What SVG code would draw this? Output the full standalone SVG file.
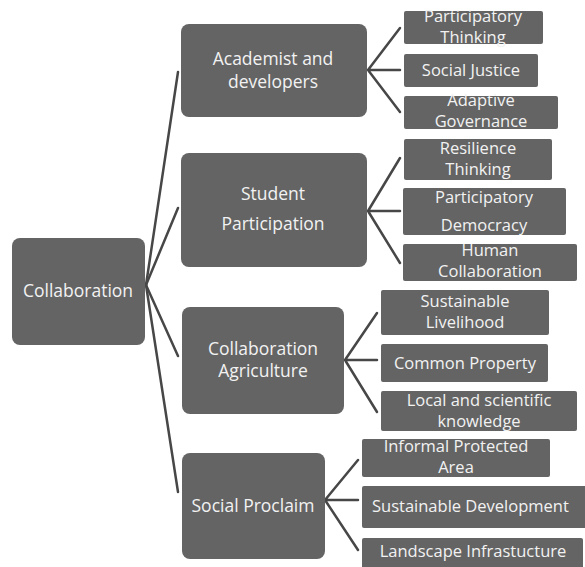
<svg xmlns="http://www.w3.org/2000/svg" width="585" height="567" viewBox="0 0 585 567">
<style>
.big{fill:#646464;}
.sm{fill:#646464;}
text{font-family:"Open Sans","Liberation Sans",sans-serif;fill:#f2f2f2;text-anchor:middle;}
.t2{font-size:17.5px;}
.t3{font-size:16.5px;}
.c{fill:none;stroke:#474747;stroke-width:2.5;stroke-linecap:round;}
</style>
<rect width="585" height="567" fill="#ffffff"/>
<g id="connectors">
<path class="c" d="M146,285 L178,72"/>
<path class="c" d="M146,285 L178,208"/>
<path class="c" d="M146,285 L178,356"/>
<path class="c" d="M146,285 L178,492"/>
<path class="c" d="M368,70 L400,28 M368,70 L400,70 M368,70 L400,112"/>
<path class="c" d="M368,211 L400,158 M368,211 L400,211 M368,211 L400,263"/>
<path class="c" d="M345,360 L377,313 M345,360 L377,360 M345,360 L377,412"/>
<path class="c" d="M325,500 L358,460 M325,500 L358,500 M325,500 L358,550"/>
</g>
<g id="collaboration"><rect class="big" x="12" y="238" width="133" height="107" rx="8"/><text class="t2" x="78" y="297">Collaboration</text></g>
<g id="academist"><rect class="big" x="181" y="24" width="186" height="93" rx="8"/><text class="t2" x="273" y="65">Academist and</text><text class="t2" x="273" y="88">developers</text></g>
<g id="student"><rect class="big" x="181" y="153" width="186" height="114" rx="8"/><text class="t2" x="273" y="200">Student</text><text class="t2" x="273" y="230">Participation</text></g>
<g id="collab-agri"><rect class="big" x="182" y="307" width="162" height="107" rx="8"/><text class="t2" x="263" y="355">Collaboration</text><text class="t2" x="263" y="377">Agriculture</text></g>
<g id="social-proclaim"><rect class="big" x="182" y="453" width="143" height="106" rx="8"/><text class="t2" x="253" y="512">Social Proclaim</text></g>
<g id="participatory-thinking"><rect class="sm" x="404" y="11" width="139" height="33" rx="2"/><text class="t3" x="473" y="22">Participatory</text><text class="t3" x="473" y="43">Thinking</text></g>
<g id="social-justice"><rect class="sm" x="404" y="54" width="134" height="33" rx="2"/><text class="t3" x="471" y="76">Social Justice</text></g>
<g id="adaptive-governance"><rect class="sm" x="404" y="96" width="154" height="33" rx="2"/><text class="t3" x="481" y="106">Adaptive</text><text class="t3" x="481" y="127">Governance</text></g>
<g id="resilience-thinking"><rect class="sm" x="404" y="139" width="148" height="41" rx="2"/><text class="t3" x="478" y="154">Resilience</text><text class="t3" x="478" y="175">Thinking</text></g>
<g id="participatory-democracy"><rect class="sm" x="403" y="188" width="163" height="47" rx="2"/><text class="t3" x="484" y="203">Participatory</text><text class="t3" x="484" y="231">Democracy</text></g>
<g id="human-collaboration"><rect class="sm" x="403" y="244" width="174" height="37" rx="2"/><text class="t3" x="490" y="256">Human</text><text class="t3" x="490" y="277">Collaboration</text></g>
<g id="sustainable-livelihood"><rect class="sm" x="381" y="290" width="168" height="45" rx="2"/><text class="t3" x="465" y="307">Sustainable</text><text class="t3" x="465" y="328">Livelihood</text></g>
<g id="common-property"><rect class="sm" x="381" y="344" width="167" height="38" rx="2"/><text class="t3" x="465" y="369">Common Property</text></g>
<g id="local-knowledge"><rect class="sm" x="381" y="391" width="196" height="40" rx="2"/><text class="t3" x="479" y="406">Local and scientific</text><text class="t3" x="479" y="427">knowledge</text></g>
<g id="informal-protected-area"><rect class="sm" x="362" y="439" width="188" height="38" rx="2"/><text class="t3" x="456" y="452">Informal Protected</text><text class="t3" x="456" y="473">Area</text></g>
<g id="sustainable-development"><rect class="sm" x="362" y="486" width="226" height="42" rx="2"/><text class="t3" x="372" y="512" style="text-anchor:start">Sustainable Development</text></g>
<g id="landscape-infrastucture"><rect class="sm" x="362" y="538" width="221" height="32" rx="2"/><text class="t3" x="473" y="557">Landscape Infrastucture</text></g>
</svg>
